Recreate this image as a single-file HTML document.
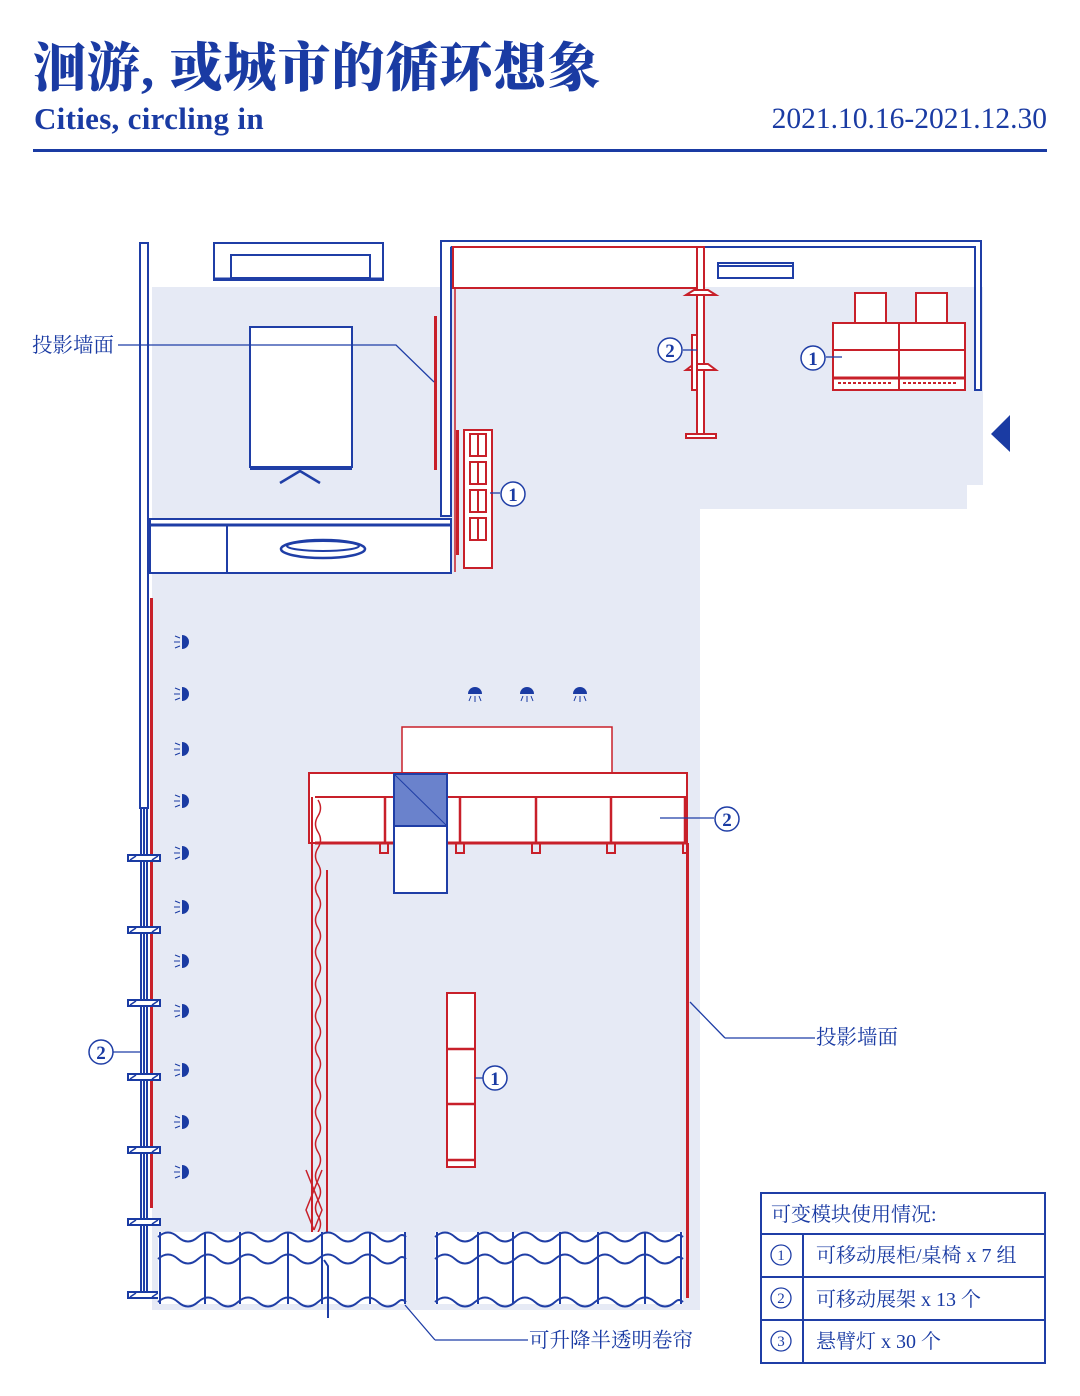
<!DOCTYPE html>
<html><head><meta charset="utf-8"><style>
html,body{margin:0;padding:0;background:#fff;}
body{width:1080px;height:1396px;position:relative;overflow:hidden;font-family:"Liberation Serif","Noto Serif CJK SC",serif;color:#1e3c9e;}
.t{position:absolute;white-space:nowrap;}
</style></head><body>
<div class="t" style="left:33px;top:26px;font-size:53px;font-weight:900;font-family:'Liberation Serif','Noto Serif CJK SC',serif;color:#1a3ba3;letter-spacing:1px;">洄游, 或城市的循环想象</div>
<div class="t" style="left:34px;top:101px;font-size:31px;font-weight:bold;color:#1a3ba3;letter-spacing:0.3px;">Cities, circling in</div>
<div class="t" style="right:33px;top:103px;font-size:29.5px;color:#1a3ba3;">2021.10.16-2021.12.30</div>
<div style="position:absolute;left:33px;top:149px;width:1014px;height:3px;background:#1a3ba3;"></div>

<svg width="1080" height="1396" style="position:absolute;left:0;top:0" xmlns="http://www.w3.org/2000/svg">
<defs>
<path id="w" d="M0 0 q10 -9 20 0 t20 0 t20 0 t20 0 t20 0 t20 0 t20 0 t20 0 t20 0 t20 0 t20 0 t20 0 q4 -4 8 0" fill="none" stroke="#1f3ea6" stroke-width="2"/>
<g id="lamp"><path d="M0 -7 a7 7 0 0 1 0 14 z" fill="#1a3ba3"/><path d="M-2 -4 l-5 -2 M-2 0 h-6 M-2 4 l-5 2" stroke="#1a3ba3" stroke-width="1"/></g>
<g id="lampd"><path d="M-7 0 a7 7 0 0 1 14 0 z" fill="#1a3ba3"/><path d="M-4 2 l-2 5 M0 2 v6 M4 2 l2 5" stroke="#1a3ba3" stroke-width="1"/></g>
<g id="br"><rect x="-12" y="-3" width="32" height="6" fill="#fff" stroke="#1a3ba3" stroke-width="2"/><path d="M-10 2 l6 -4 M12 2 l6 -4" stroke="#1a3ba3" stroke-width="1.5"/></g>
</defs>
<path d="M152 287 H983 V485 H967 V509 H700 V1310 H152 Z" fill="#e6eaf5"/>
<g fill="none" stroke="#1f3ea6" stroke-width="2">
<rect x="140" y="243" width="8" height="565" fill="#fff"/>
<rect x="141" y="808" width="6" height="490" fill="#fff"/>
<line x1="144" y1="808" x2="144" y2="1298"/>
<rect x="214" y="243" width="169" height="37" fill="#fff"/>
<rect x="231" y="255" width="139" height="23"/>
<line x1="214" y1="279" x2="383" y2="279" stroke-width="3"/>
<rect x="441" y="241" width="10" height="275" fill="#fff"/>
<path d="M441 241 H981 V390 H975 V247 H451" fill="#fff"/>
<rect x="250" y="327" width="102" height="140" fill="#fff"/>
<line x1="250" y1="469" x2="352" y2="469"/>
<path d="M280 483 l20 -12 l20 12" stroke-width="2.5"/>
<rect x="150" y="519" width="301" height="54" fill="#fff"/>
<line x1="150" y1="525" x2="451" y2="525" stroke-width="3"/>
<line x1="227" y1="525" x2="227" y2="573"/>
<ellipse cx="323" cy="549" rx="42" ry="9" fill="#fff" stroke-width="2.5"/>
<ellipse cx="323" cy="546" rx="36" ry="5"/>
<rect x="718" y="263" width="75" height="15" fill="#fff"/>
<line x1="718" y1="266" x2="793" y2="266"/>
</g>
<g fill="none" stroke="#c8202a" stroke-width="2">
<rect x="453" y="247" width="245" height="41" fill="#fff"/>
<line x1="455" y1="288" x2="455" y2="572" stroke-width="1.5"/>
<rect x="434" y="316" width="3" height="154" fill="#c8202a" stroke="none"/>
<rect x="456" y="430" width="3" height="125" fill="#c8202a" stroke="none"/>
<rect x="464" y="430" width="28" height="138" fill="#fff"/>
<path d="M470 434 h16 v22 h-16 z M470 462 h16 v22 h-16 z M470 490 h16 v22 h-16 z M470 518 h16 v22 h-16 z M478 434 v22 M478 462 v22 M478 490 v22 M478 518 v22"/>
<rect x="697" y="247" width="7" height="190" fill="#fff"/>
<path d="M686 295 l8 -5 h14 l8 5 z M686 370 l8 -6 h14 l8 6 z M686 438 h30 v-4 h-30 z" fill="#fff"/>
<rect x="692" y="335" width="5" height="55" fill="#fff"/>
<rect x="855" y="293" width="31" height="30" fill="#fff"/>
<rect x="916" y="293" width="31" height="30" fill="#fff"/>
<rect x="833" y="323" width="132" height="67" fill="#fff"/>
<line x1="899" y1="323" x2="899" y2="390"/>
<line x1="833" y1="350" x2="965" y2="350"/>
<line x1="833" y1="378" x2="965" y2="378" stroke-width="3"/>
<path d="M838 383 h55 M903 383 h55" stroke-dasharray="3 2"/>
<rect x="150" y="598" width="3" height="610" fill="#c8202a" stroke="none"/>
<rect x="402" y="727" width="210" height="46" fill="#fff" stroke-width="1.5"/>
<rect x="309" y="773" width="378" height="70" fill="#fff"/>
<line x1="315" y1="797" x2="687" y2="797"/>
<line x1="315" y1="843" x2="687" y2="843" stroke-width="3"/>
<path d="M385 797 v46 M460 797 v46 M536 797 v46 M611 797 v46 M685 797 v46" stroke-width="2.5"/>
<path d="M380 843 v10 h8 v-10 M456 843 v10 h8 v-10 M532 843 v10 h8 v-10 M607 843 v10 h8 v-10 M683 843 v10 h6" />
<rect x="686" y="843" width="3" height="455" fill="#c8202a" stroke="none"/>
<line x1="312" y1="797" x2="312" y2="1235"/>
<line x1="327" y1="870" x2="327" y2="1235"/>
<path d="M318 800 q5 8 0 16 t0 16 t0 16 t0 16 t0 16 t0 16 t0 16 t0 16 t0 16 t0 16 t0 16 t0 16 t0 16 t0 16 t0 16 t0 16 t0 16 t0 16 t0 16 t0 16 t0 16 t0 16 t0 16 t0 16 t0 16 t0 16 t0 16" stroke-width="1.5"/>
<path d="M306 1170 l8 20 l-8 20 l8 20 M322 1170 l-8 20 l8 20 l-8 20" stroke-width="1.5"/>
<rect x="447" y="993" width="28" height="174" fill="#fff"/>
<path d="M447 1049 h28 M447 1104 h28 M447 1160 h28" stroke-width="2.5"/>
</g>
<rect x="394" y="774" width="53" height="52" fill="#6a82cc" stroke="#1f3ea6" stroke-width="2"/>
<line x1="394" y1="774" x2="447" y2="826" stroke="#1f3ea6" stroke-width="1"/>
<rect x="394" y="826" width="53" height="67" fill="#fff" stroke="#1f3ea6" stroke-width="2"/>
<path d="M991 434 L1010 415 V452 Z" fill="#1a3ba3"/>
<use href="#lamp" x="182" y="642"/><use href="#lamp" x="182" y="694"/><use href="#lamp" x="182" y="749"/><use href="#lamp" x="182" y="801"/><use href="#lamp" x="182" y="853"/><use href="#lamp" x="182" y="907"/><use href="#lamp" x="182" y="961"/><use href="#lamp" x="182" y="1011"/><use href="#lamp" x="182" y="1070"/><use href="#lamp" x="182" y="1122"/><use href="#lamp" x="182" y="1172"/>
<use href="#lampd" x="475" y="694"/><use href="#lampd" x="527" y="694"/><use href="#lampd" x="580" y="694"/>
<use href="#br" x="140" y="858"/><use href="#br" x="140" y="930"/><use href="#br" x="140" y="1003"/><use href="#br" x="140" y="1077"/><use href="#br" x="140" y="1150"/><use href="#br" x="140" y="1222"/><use href="#br" x="140" y="1295"/>
<rect x="158" y="1232" width="248" height="72" fill="#fff"/>
<rect x="435" y="1232" width="248" height="72" fill="#fff"/>
<use href="#w" x="158" y="1237"/><use href="#w" x="158" y="1259"/><use href="#w" x="158" y="1302"/>
<use href="#w" x="435" y="1237"/><use href="#w" x="435" y="1259"/><use href="#w" x="435" y="1302"/>
<g stroke="#1f3ea6" stroke-width="2">
<path d="M160 1232 v72 M205 1232 v72 M240 1232 v72 M288 1232 v72 M322 1232 v72 M370 1232 v72 M405 1232 v72"/>
<path d="M437 1232 v72 M478 1232 v72 M513 1232 v72 M560 1232 v72 M598 1232 v72 M645 1232 v72 M681 1232 v72"/>
<path d="M324 1260 l4 6 v52" fill="none"/>
</g>
<g stroke="#1f3ea6" stroke-width="1.3" fill="none">
<path d="M118 345 H396 L434 382"/>
<path d="M725 1038 H815 M725 1038 L690 1002"/>
<path d="M435 1340 H528 M435 1340 L405 1305"/>
<path d="M660 818 H714"/>
<path d="M113 1052 H142"/>
<path d="M683 350 H697"/>
<path d="M826 357 H842"/>
<path d="M490 493 H500"/>
<path d="M475 1078 H483"/>
</g>
<g fill="#fff" stroke="#1f3ea6" stroke-width="1.5">
<circle cx="670" cy="350" r="12"/><circle cx="813" cy="358" r="12"/><circle cx="513" cy="494" r="12"/>
<circle cx="727" cy="819" r="12"/><circle cx="495" cy="1078" r="12"/><circle cx="101" cy="1052" r="12"/>
</g>
<g fill="#1a3ba3" font-family="Liberation Serif,serif" font-size="19" font-weight="bold" text-anchor="middle">
<text x="670" y="357">2</text><text x="813" y="365">1</text><text x="513" y="501">1</text>
<text x="727" y="826">2</text><text x="495" y="1085">1</text><text x="101" y="1059">2</text>
</g>
<g fill="#1a3ba3" font-family="Liberation Serif,Noto Serif CJK SC,serif" font-size="20.5">
<text x="32" y="352">投影墙面</text>
<text x="816" y="1044">投影墙面</text>
<text x="529" y="1347">可升降半透明卷帘</text>
</g>
<g fill="none" stroke="#1f3ea6" stroke-width="2">
<rect x="761" y="1193" width="284" height="170" fill="#fff"/>
<path d="M761 1234 H1045 M761 1277 H1045 M761 1320 H1045 M803 1234 V1363"/>
</g>
<g fill="#1a3ba3" font-family="Liberation Serif,Noto Serif CJK SC,serif" font-size="20">
<text x="771" y="1221">可变模块使用情况:</text>
<text x="816" y="1262">可移动展柜/桌椅 x 7 组</text>
<text x="816" y="1306">可移动展架 x 13 个</text>
<text x="816" y="1348">悬臂灯 x 30 个</text>
</g>
<g fill="none" stroke="#1f3ea6" stroke-width="1.3"><circle cx="781" cy="1255" r="10"/><circle cx="781" cy="1298" r="10"/><circle cx="781" cy="1341" r="10"/></g>
<g fill="#1a3ba3" font-family="Liberation Serif,serif" font-size="15" text-anchor="middle">
<text x="781" y="1260">1</text><text x="781" y="1303">2</text><text x="781" y="1346">3</text>
</g>
</svg>
</body></html>
